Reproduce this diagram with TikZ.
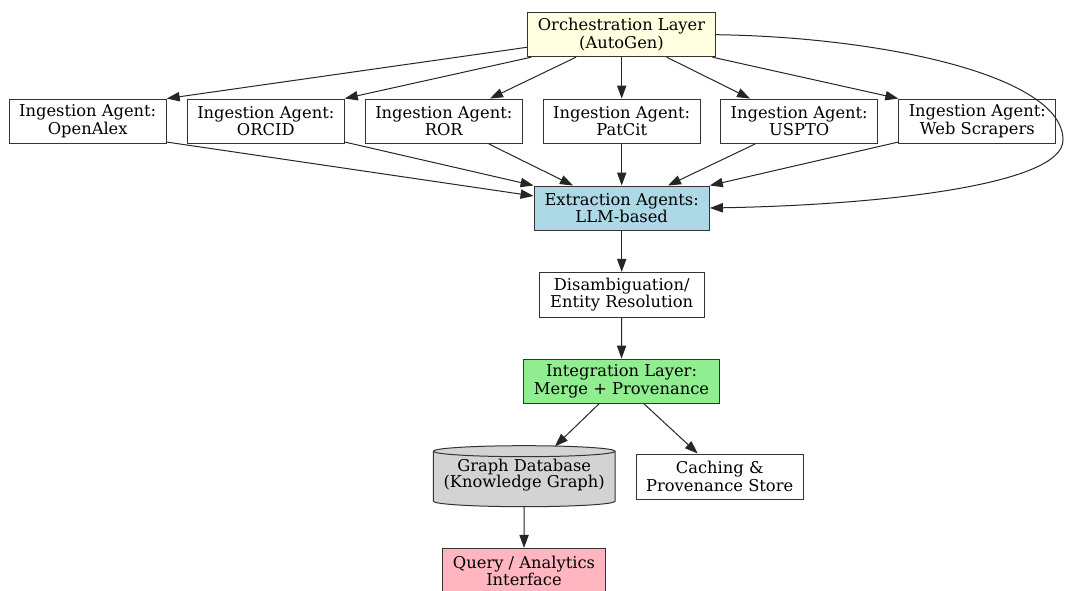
\documentclass[tikz,border=0pt]{standalone}
\usepackage{fontspec}
\setmainfont{DejaVu Serif}
\usetikzlibrary{arrows.meta,calc}
\definecolor{lyellow}{HTML}{FFFFE0}
\definecolor{lblue}{HTML}{ADD8E6}
\definecolor{lgreen}{HTML}{90EE90}
\definecolor{lgray}{HTML}{D3D3D3}
\definecolor{lpink}{HTML}{FFB6C1}
\begin{document}
\begin{tikzpicture}[x=1pt,y=-1pt,
  lbl/.style={inner sep=0pt, align=center, font=\fontsize{16.3}{17.3}\selectfont},
  box/.style={lbl, rectangle, draw=black!80, line width=1pt, fill=white},
  ing/.style={box, minimum width=157pt, minimum height=44.5pt},
  edge/.style={draw=black!85, line width=1pt, -{Triangle[length=13pt,width=9.3pt]}}]
\useasboundingbox[fill=white] (0,0) rectangle (1065,591);

% nodes
\node[box, fill=lyellow, minimum width=188.4pt, minimum height=44pt] (orch) at (621.5,34.7) {Orchestration Layer\\(AutoGen)};
\node[ing] (oa) at (87.7,121.3) {Ingestion Agent:\\OpenAlex};
\node[ing] (orcid) at (265.8,121.3) {Ingestion Agent:\\ORCID};
\node[ing] (ror) at (443.8,121.3) {Ingestion Agent:\\ROR};
\node[ing] (patcit) at (621.7,121.3) {Ingestion Agent:\\PatCit};
\node[ing] (uspto) at (799.2,121.3) {Ingestion Agent:\\USPTO};
\node[ing] (web) at (977.3,121.3) {Ingestion Agent:\\Web Scrapers};
\node[box, fill=lblue, minimum width=175.3pt, minimum height=44pt] (ex) at (621.7,208) {Extraction Agents:\\LLM-based};
\node[box, minimum width=165.3pt, minimum height=44.7pt] (dis) at (621.7,294.7) {Disambiguation/\\Entity Resolution};
\node[box, fill=lgreen, minimum width=195.6pt, minimum height=44.3pt] (int) at (621.5,381.2) {Integration Layer:\\Merge + Provenance};

% cylinder
\coordinate (gdbc) at (524.2,476.2);
\draw[draw=black!80, line width=1pt, fill=lgray]
  ($(gdbc)+(-90.85,-25)$) -- ($(gdbc)+(-90.85,25)$)
  arc[start angle=180, end angle=360, x radius=90.85pt, y radius=5.5pt]
  -- ($(gdbc)+(90.85,-25)$)
  arc[start angle=0, end angle=180, x radius=90.85pt, y radius=5.5pt] -- cycle;
\draw[draw=black!80, line width=1pt]
  ($(gdbc)+(-90.85,-25)$) arc[start angle=180, end angle=360, x radius=90.85pt, y radius=5.5pt];
\node[lbl, minimum width=181.7pt, minimum height=61pt] (gdb) at (gdbc) {\raisebox{-2pt}{\begin{tabular}{@{}c@{}}Graph Database\\[-1.8pt](Knowledge Graph)\end{tabular}}};

\node[box, minimum width=167.3pt, minimum height=45pt] (cache) at (719.7,476.5) {Caching \&\\Provenance Store};
\node[box, fill=lpink, minimum width=162.6pt, minimum height=44.7pt] (query) at (524,570.7) {Query / Analytics\\Interface};

% edges from orchestration
\draw[edge] ([yshift=-12.6pt]orch.west) -- (oa.north east);
\draw[edge] ([xshift=4.4pt]orch.south west) -- (orcid.north east);
\draw[edge] ([xshift=-45.5pt]orch.south) -- ([xshift=46.2pt]ror.north);
\draw[edge] (patcit.north |- orch.south) -- (patcit.north);
\draw[edge] ([xshift=45.2pt]orch.south) -- ([xshift=-49.2pt]uspto.north);
\draw[edge] ([xshift=-3.7pt]orch.south east) -- (web.north west);
\draw[edge] (orch.east) .. controls (880,37) and (1063,75) .. (1063,140)
  .. controls (1063,185) and (880,205) .. (ex.east);

% ingestion to extraction
\draw[edge] ([yshift=2pt]oa.south east) -- ([yshift=12pt]ex.west);
\draw[edge] ([yshift=2pt]orcid.south east) -- (ex.north west);
\draw[edge] ([xshift=45.2pt]ror.south) -- ([xshift=-48.7pt]ex.north);
\draw[edge] (patcit.south) -- (ex.north);
\draw[edge] ([xshift=-44.2pt]uspto.south) -- ([xshift=46.3pt]ex.north);
\draw[edge] ([yshift=2pt]web.south west) -- (ex.north east);

% pipeline
\draw[edge] (ex.south) -- (dis.north);
\draw[edge] (dis.south) -- (int.north);
\draw[edge] ([xshift=-22.5pt]int.south) -- ([xshift=30.8pt,yshift=-0.8pt]gdb.north);
\draw[edge] ([xshift=22.5pt]int.south) -- ([xshift=-22pt]cache.north);
\draw[edge] (gdb.south) -- (query.north);
\end{tikzpicture}
\end{document}
